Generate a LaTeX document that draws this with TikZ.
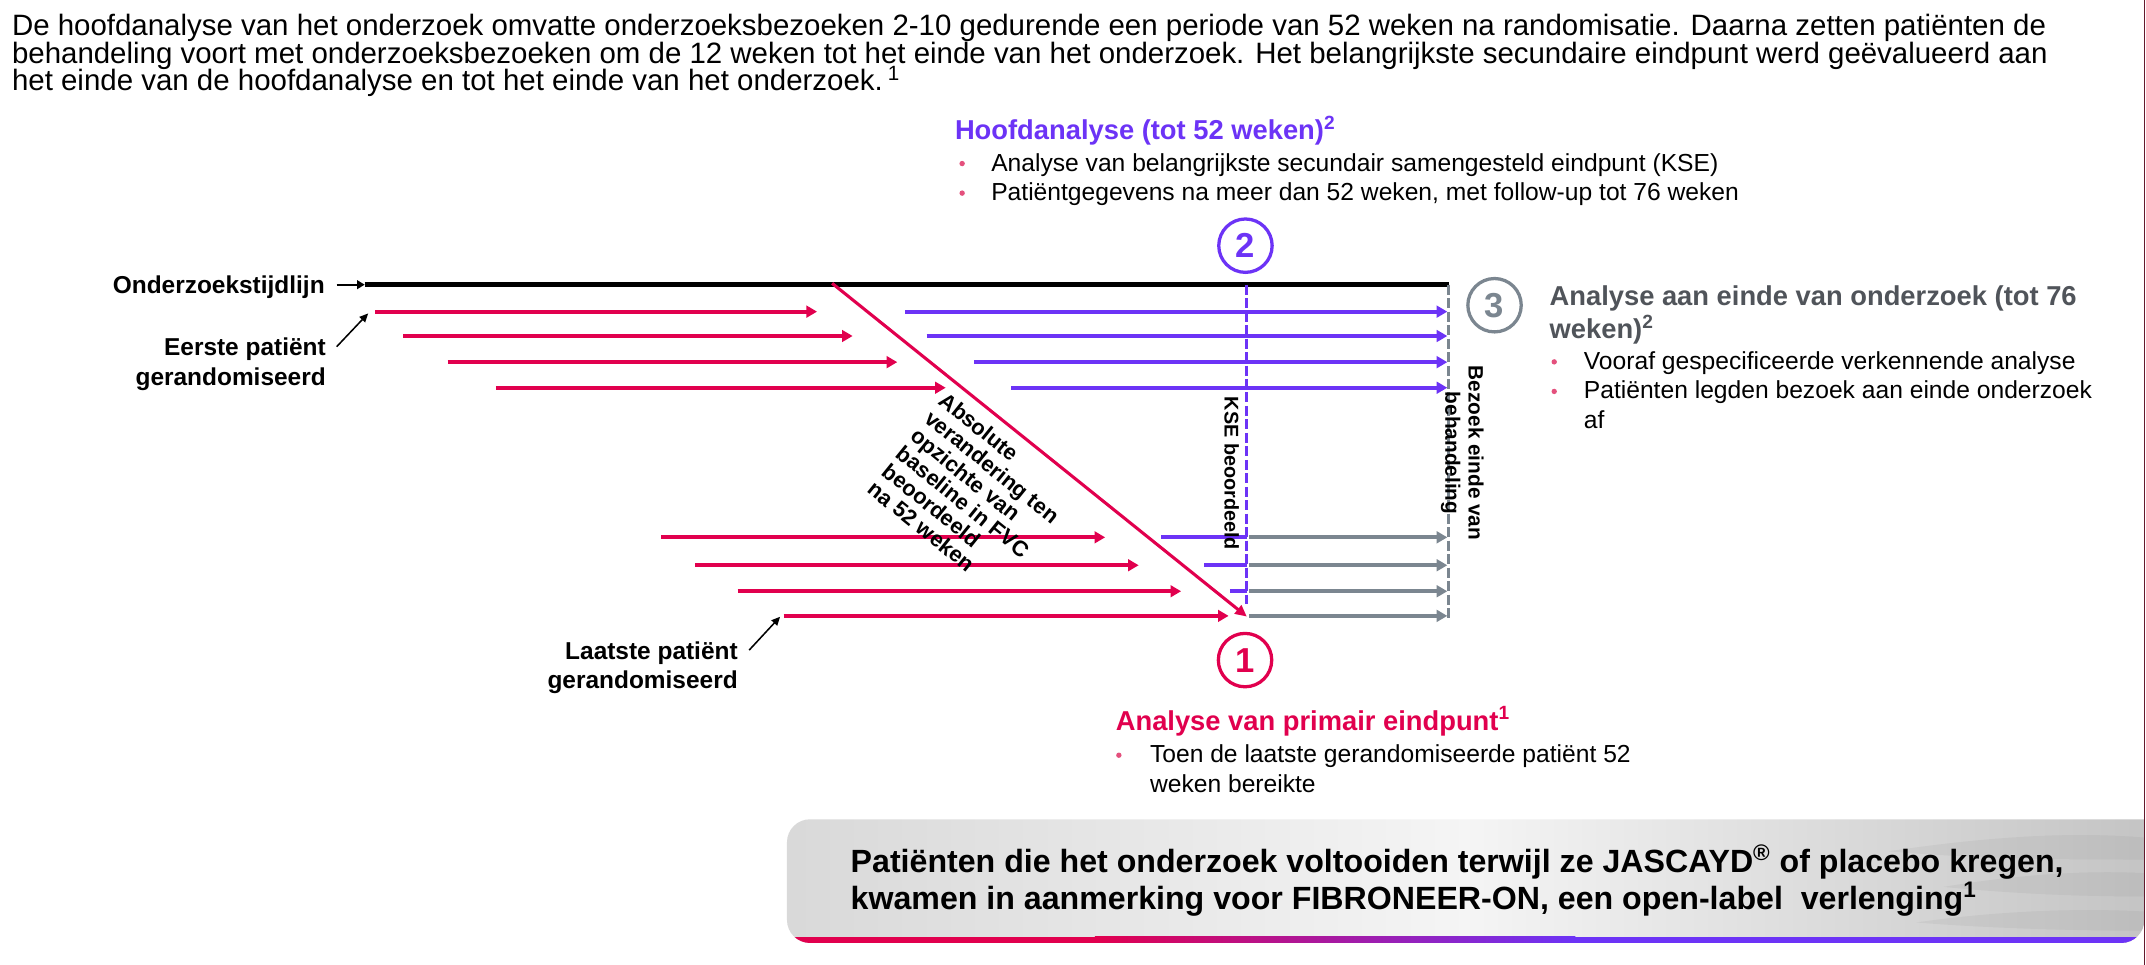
\documentclass[tikz,border=0pt]{standalone}
\usepackage{fontspec}
\setmainfont{Liberation Sans}
\usetikzlibrary{arrows.meta}
\definecolor{crim}{RGB}{225,0,78}
\definecolor{purp}{RGB}{108,51,246}
\definecolor{gry}{RGB}{123,134,144}
\definecolor{hgry}{RGB}{80,84,90}
\definecolor{bul}{RGB}{228,80,125}
\definecolor{edgec}{RGB}{100,25,45}
\tikzset{
  para/.style={anchor=base west,inner sep=0pt,font=\fontsize{15.3}{16}\selectfont},
  headtxt/.style={anchor=base west,inner sep=0pt,font=\fontsize{14.2}{16}\selectfont\bfseries},
  btxt/.style={anchor=base west,inner sep=0pt,font=\fontsize{12.8}{15}\selectfont},
  lbl/.style={anchor=base east,inner sep=0pt,font=\fontsize{12.7}{15}\selectfont\bfseries},
  numc/.style={circle,draw,line width=1.7pt,minimum size=0.975cm,inner sep=0pt,font=\fontsize{18}{18}\selectfont\bfseries},
  bdot/.style={circle,fill=bul,inner sep=0pt,minimum size=2.8pt},
  lane/.style={line width=2pt,-{Triangle[length=5.5pt,width=6pt]}},
  seg/.style={line width=2pt},
  thinarr/.style={black,line width=0.8pt,-{Triangle[length=4.5pt,width=4pt]}},
  vdash/.style={line width=1.7pt,dash pattern=on 5.2pt off 1.8pt},
}
\begin{document}
\begin{tikzpicture}[x=0.025cm,y=-0.025cm]
\useasboundingbox (0,0) rectangle (1568,705);
\fill[white] (0,0) rectangle (1568,705);

% paragraph
\node[para] (p1) at (8.5,26.3) {De hoofdanalyse van het onderzoek omvatte onderzoeksbezoeken 2-10 gedurende een periode van 52 weken na randomisatie. Daarna zetten patiënten de};
\node[para] (p2) at (8.5,46.3) {behandeling voort met onderzoeksbezoeken om de 12 weken tot het einde van het onderzoek. Het belangrijkste secundaire eindpunt werd geëvalueerd aan};
\node[para] (p3) at (8.5,66.3) {het einde van de hoofdanalyse en tot het einde van het onderzoek.\,\textsuperscript{1}};

% bottom box
\begin{scope}
\clip (1566.8,598.6) [rounded corners=12] -- (575,598.6) -- (575,689) -- (1566.8,689) [sharp corners] -- cycle;
\shade[left color=black!15, right color=black!23, middle color=black!4] (575,598.6) rectangle (1566.8,689);
\fill[black,opacity=0.04] (1380,622) .. controls (1460,610) and (1520,608) .. (1566.8,612) -- (1566.8,628) .. controls (1510,628) and (1450,628) .. (1380,622) -- cycle;
\fill[black,opacity=0.04] (1420,648) .. controls (1480,638) and (1530,636) .. (1566.8,638) -- (1566.8,655) .. controls (1520,655) and (1470,653) .. (1420,648) -- cycle;
\fill[black,opacity=0.04] (1400,674) .. controls (1470,664) and (1530,664) .. (1566.8,666) -- (1566.8,680) .. controls (1510,680) and (1450,678) .. (1400,674) -- cycle;
\fill[crim] (570,684.4) rectangle (801,690);
\shade[left color=crim,right color=purp] (800,684.4) rectangle (1151,690);
\fill[purp] (1150,684.4) rectangle (1570,690);
\end{scope}
\node[anchor=base west,inner sep=0pt,font=\fontsize{16.7}{20}\selectfont\bfseries] (bx1) at (621.3,637.6) {Patiënten die het onderzoek voltooiden terwijl ze JASCAYD\textsuperscript{®} of placebo kregen,};
\node[anchor=base west,inner sep=0pt,font=\fontsize{16.7}{20}\selectfont\bfseries] (bx2) at (621.3,664.4) {kwamen in aanmerking voor FIBRONEER-ON, een open-label\ \ verlenging\textsuperscript{1}};

% right edge line
\draw[edgec,line width=0.9pt] (1566.8,0) -- (1566.8,705);

% timeline
\coordinate (tls) at (266.5,208);
\coordinate (tle) at (1058.5,208);
\draw[black,line width=2.8pt] (tls) -- (tle);
\node[lbl] (ltl) at (237.5,214.4) {Onderzoekstijdlijn};
\coordinate (tla) at (246,208);
\draw[black,line width=1pt,-{Triangle[length=4pt,width=4.5pt]}] (tla) -- (tls);

% vertical dashed lines
\coordinate (kt) at (911,208); \coordinate (kb) at (911,441);
\draw[purp,vdash] (kt) -- (kb);
\coordinate (gt) at (1058.5,208); \coordinate (gb) at (1058.5,453);
\draw[gry,vdash] (gt) -- (gb);

% upper lanes
\foreach \n/\xs/\xe/\ps/\yy in {1/274.2/597/661.6/227.7, 2/294.7/623/677/245.5, 3/327/655.6/711.7/264.6, 4/362.4/691/739/283.3}{
  \coordinate (rs\n) at (\xs,\yy); \coordinate (re\n) at (\xe,\yy);
  \coordinate (ps\n) at (\ps,\yy); \coordinate (pe\n) at (1057.5,\yy);
  \draw[lane,crim] (rs\n) -- (re\n);
  \draw[lane,purp] (ps\n) -- (pe\n);
}
% lower lanes
\foreach \n/\xs/\xe/\yy in {5/483/807.5/392.6, 6/508/832/413, 7/539/863/432, 8/572.6/897.7/450}{
  \coordinate (rs\n) at (\xs,\yy); \coordinate (re\n) at (\xe,\yy);
  \coordinate (gs\n) at (912.5,\yy); \coordinate (ge\n) at (1057.5,\yy);
  \draw[lane,crim] (rs\n) -- (re\n);
  \draw[lane,gry] (gs\n) -- (ge\n);
}
\foreach \n/\xs/\yy in {5/848.5/392.6, 6/880/413, 7/898.7/432}{
  \coordinate (qs\n) at (\xs,\yy); \coordinate (qe\n) at (911,\yy);
  \draw[seg,purp] (qs\n) -- (qe\n);
}

% diagonal
\coordinate (dgs) at (608,207);
\coordinate (dge) at (911,450.5);
\draw[crim,line width=1.6pt,-{Triangle[length=6pt,width=5.5pt]}] (dgs) -- (dge);
\node[rotate=-38.9,anchor=north west,align=left,inner sep=0pt,font=\fontsize{11.4}{11.8}\selectfont\bfseries] (fvc) at (692.4,285.4) {Absolute\\verandering ten\\opzichte van\\baseline in FVC\\beoordeeld\\na 52 weken};

% rotated labels
\node[rotate=-90,inner sep=0pt,font=\fontsize{10.3}{12}\selectfont\bfseries] (kse) at (900,346) {KSE beoordeeld};
\node[rotate=-90,align=center,inner sep=0pt,font=\fontsize{10.8}{12.1}\selectfont\bfseries] (bez) at (1068.5,331) {Bezoek einde van\\behandeling};

% side labels
\node[lbl] (lep1) at (238.3,260.1) {Eerste patiënt};
\node[lbl] (lep2) at (238.3,281.3) {gerandomiseerd};
\coordinate (ea) at (246,253.3); \coordinate (eb) at (269,229);
\draw[thinarr] (ea) -- (eb);
\node[lbl] (llp1) at (539.3,481.7) {Laatste patiënt};
\node[lbl] (llp2) at (539.3,503) {gerandomiseerd};
\coordinate (la) at (547.4,475); \coordinate (lb) at (570,450.6);
\draw[thinarr] (la) -- (lb);

% circles
\node[numc,draw=purp,text=purp] (c2) at (910,179.5) {2};
\node[numc,draw=gry,text=gry] (c3) at (1092,223) {3};
\node[numc,draw=crim,text=crim] (c1) at (909.7,482.3) {1};

% heading 2 block
\node[headtxt,text=purp] (h2) at (697.5,102) {Hoofdanalyse (tot 52 weken)\textsuperscript{2}};
\node[bdot] (d21) at (703,119.5) {};
\node[btxt] (t21) at (724,125) {Analyse van belangrijkste secundair samengesteld eindpunt (KSE)};
\node[bdot] (d22) at (703,141.1) {};
\node[btxt] (t22) at (724,146.6) {Patiëntgegevens na meer dan 52 weken, met follow-up tot 76 weken};

% heading 3 block
\node[headtxt,text=hgry] (h3a) at (1132,222.9) {Analyse aan einde van onderzoek (tot 76};
\node[headtxt,text=hgry] (h3b) at (1132,247.2) {weken)\textsuperscript{2}};
\node[bdot] (d31) at (1135.6,264.4) {};
\node[btxt] (t31) at (1157,269.9) {Vooraf gespecificeerde verkennende analyse};
\node[bdot] (d32) at (1135.6,286) {};
\node[btxt] (t32) at (1157,291.5) {Patiënten legden bezoek aan einde onderzoek};
\node[btxt] (t33) at (1157,313) {af};

% heading 1 block
\node[headtxt,text=crim] (h1) at (815,533.4) {Analyse van primair eindpunt\textsuperscript{1}};
\node[bdot] (d11) at (817.5,551.8) {};
\node[btxt] (t11) at (840,557.3) {Toen de laatste gerandomiseerde patiënt 52};
\node[btxt] (t12) at (840,579.2) {weken bereikte};
\end{tikzpicture}
\end{document}
